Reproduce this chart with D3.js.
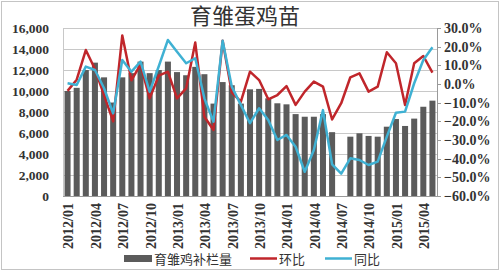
<!DOCTYPE html>
<html>
<head>
<meta charset="utf-8">
<script src="https://cdn.jsdelivr.net/npm/d3@7"></script>
<style>
  body { margin: 0; background: #fff; overflow: hidden; }
  svg { display: block; }
  svg text { fill: #333; }
  .num { font-family: "Liberation Serif", serif; font-weight: bold; }
  .cjk { font-family: "Noto Sans CJK SC", sans-serif; }
</style>
</head>
<body>
<svg id="chart"></svg>
<script>
const width = 500;
const height = 272;
const margin = {left: 63, right: 63, top: 28, bottom: 76};
const innerWidth = width - margin.left - margin.right;
const innerHeight = height - margin.top - margin.bottom;

// months on the category axis
const months = [
    "2012/01","2012/02","2012/03","2012/04","2012/05","2012/06","2012/07","2012/08","2012/09","2012/10","2012/11","2012/12",
    "2013/01","2013/02","2013/03","2013/04","2013/05","2013/06","2013/07","2013/08","2013/09","2013/10","2013/11","2013/12",
    "2014/01","2014/02","2014/03","2014/04","2014/05","2014/06","2014/07","2014/08","2014/09","2014/10","2014/11","2014/12",
    "2015/01","2015/02","2015/03","2015/04","2015/05"
];
const tick_months = ["2012/01","2012/04","2012/07","2012/10","2013/01","2013/04","2013/07","2013/10",
    "2014/01","2014/04","2014/07","2014/10","2015/01","2015/04"];

// 育雏鸡补栏量 (bars, left axis) - 2014/07 has no bar
const stock = [10000, 10300, 12000, 12700, 11300, 8900, 11300, 11700, 12800, 11700, 12000, 12800,
    11800, 11500, 12300, 11600, 8800, 10850, 10550, 8800, 10160, 10200, 9300, 8830,
    8730, 7800, 7550, 7550, 7800, 6080, null, 5650, 5970, 5720, 5650, 6600,
    7330, 6670, 7370, 8500, 9080];

// 环比 (%, right axis)
const mom = [-3.7, 2.3, 18.2, 8, -6, -20, 26, 2, 10.5, -7.7, 4.5, 6.6,
    -7.7, -2.3, 22.2, -17.5, -24.6, 23.2, -4.5, -9.5, 6.6, 2.1, -8.2, -5.9,
    -1.1, -11.2, -4.1, 1.3, -1.4, -19, -10.3, 3.6, 5.7, -4.1, -1.4, 17,
    11.1, -11.2, 11.1, 15, 6.1];

// 同比 (%, right axis)
const yoy = [0.4, -0.5, 9.3, 7.5, -2.3, -15.7, 12.9, 6.6, 12, -4.1, 9.5, 23.6,
    17.3, 11.1, 13.8, -7.7, -20.2, 23.2, -1.4, -11.2, -21, -13, -19.3, -30,
    -27.3, -33.6, -47, -35.4, -14, -43, -48, -39.8, -40.7, -43.4, -41.6, -28.2,
    -15.4, -14.8, 0.4, 12.9, 19.7];

const left_ticks = [0, 2000, 4000, 6000, 8000, 10000, 12000, 14000, 16000];
const right_ticks = [-60, -50, -40, -30, -20, -10, 0, 10, 20, 30];

const bar_color = "#5b5b5b";
const red_color = "#c0262b";
const cyan_color = "#3fb1d3";

var svg = d3.select("#chart")
    .attr("width", width)
    .attr("height", height);

// outer frame
svg.append("rect")
    .attr("x", 1.5).attr("y", 1.5)
    .attr("width", width - 3).attr("height", height - 4)
    .attr("fill", "none")
    .attr("stroke", "#c4c4c4");

var x = d3.scaleBand()
    .domain(months)
    .range([margin.left, margin.left + innerWidth])
    .paddingInner(0.34)
    .paddingOuter(0.17);

var yLeft = d3.scaleLinear()
    .domain([0, 16000])
    .range([margin.top + innerHeight, margin.top]);

var yRight = d3.scaleLinear()
    .domain([-60, 30])
    .range([margin.top + innerHeight, margin.top]);

const cx = d => x(d) + x.bandwidth() / 2;

// gridlines
svg.append("g")
    .selectAll("line")
    .data(left_ticks)
    .enter().append("line")
        .attr("x1", margin.left)
        .attr("x2", margin.left + innerWidth)
        .attr("y1", d => Math.round(yLeft(d)) + 0.5)
        .attr("y2", d => Math.round(yLeft(d)) + 0.5)
        .attr("stroke", "#c8c8c8")
        .attr("stroke-width", 1);

// plot border on the left
svg.append("line")
    .attr("x1", margin.left + 0.5).attr("x2", margin.left + 0.5)
    .attr("y1", margin.top).attr("y2", margin.top + innerHeight)
    .attr("stroke", "#c8c8c8");

// left axis labels
svg.append("g")
    .selectAll("text")
    .data(left_ticks)
    .enter().append("text")
        .attr("class", "num")
        .attr("x", 49)
        .attr("y", d => yLeft(d))
        .attr("dy", "0.35em")
        .attr("text-anchor", "end")
        .style("font-size", "13.5px")
        .text(d => d3.format(",")(d));

// right axis labels + ticks
svg.append("line")
    .attr("x1", margin.left + innerWidth + 0.5).attr("x2", margin.left + innerWidth + 0.5)
    .attr("y1", margin.top).attr("y2", margin.top + innerHeight)
    .attr("stroke", "#9a9a9a");

svg.append("g")
    .selectAll("line")
    .data(right_ticks)
    .enter().append("line")
        .attr("x1", margin.left + innerWidth)
        .attr("x2", margin.left + innerWidth + 4)
        .attr("y1", d => Math.round(yRight(d)) + 0.5)
        .attr("y2", d => Math.round(yRight(d)) + 0.5)
        .attr("stroke", "#9a9a9a");

svg.append("g")
    .selectAll("text")
    .data(right_ticks)
    .enter().append("text")
        .attr("class", "num")
        .attr("x", margin.left + innerWidth + 7)
        .attr("y", d => yRight(d))
        .attr("dy", "0.35em")
        .style("font-size", "14px")
        .text(d => d3.format(".1f")(d) + "%");

// bars
svg.append("g")
    .selectAll("rect")
    .data(months.map((m, i) => ({month: m, value: stock[i]})).filter(d => d.value !== null))
    .enter().append("rect")
        .attr("x", d => x(d.month))
        .attr("width", x.bandwidth())
        .attr("y", d => yLeft(d.value))
        .attr("height", d => yLeft(0) - yLeft(d.value))
        .attr("fill", bar_color);

// bottom axis line
svg.append("line")
    .attr("x1", margin.left).attr("x2", margin.left + innerWidth)
    .attr("y1", yLeft(0) + 0.5).attr("y2", yLeft(0) + 0.5)
    .attr("stroke", "#9a9a9a");

// lines
var pct_line = d3.line()
    .defined(d => d.value !== null)
    .x(d => cx(d.month))
    .y(d => yRight(d.value));

svg.append("path")
    .datum(months.map((m, i) => ({month: m, value: mom[i]})))
    .attr("d", pct_line)
    .attr("fill", "none")
    .attr("stroke", red_color)
    .attr("stroke-width", 2.5)
    .attr("stroke-linejoin", "round");

svg.append("path")
    .datum(months.map((m, i) => ({month: m, value: yoy[i]})))
    .attr("d", pct_line)
    .attr("fill", "none")
    .attr("stroke", cyan_color)
    .attr("stroke-width", 2.5)
    .attr("stroke-linejoin", "round");

// x labels, rotated
svg.append("g")
    .selectAll("text")
    .data(tick_months)
    .enter().append("text")
        .attr("class", "num")
        .attr("transform", d => `translate(${cx(d) + 1}, 203) rotate(-90)`)
        .attr("dy", "0.35em")
        .attr("text-anchor", "end")
        .style("font-size", "14px")
        .text(d => d);

// title
svg.append("text")
    .attr("class", "cjk")
    .attr("x", 245)
    .attr("y", 24)
    .attr("text-anchor", "middle")
    .style("font-size", "22px")
    .text("育雏蛋鸡苗");

// legend
var legend = svg.append("g");
legend.append("rect")
    .attr("x", 124).attr("y", 255)
    .attr("width", 28).attr("height", 7)
    .attr("fill", bar_color);
legend.append("text")
    .attr("class", "cjk")
    .attr("x", 154).attr("y", 263.5)
    .style("font-size", "13px")
    .text("育雏鸡补栏量");
legend.append("line")
    .attr("x1", 250).attr("x2", 277)
    .attr("y1", 258.5).attr("y2", 258.5)
    .attr("stroke", red_color).attr("stroke-width", 2.5);
legend.append("text")
    .attr("class", "cjk")
    .attr("x", 279).attr("y", 263.5)
    .style("font-size", "13px")
    .text("环比");
legend.append("line")
    .attr("x1", 325).attr("x2", 352)
    .attr("y1", 258.5).attr("y2", 258.5)
    .attr("stroke", cyan_color).attr("stroke-width", 2.5);
legend.append("text")
    .attr("class", "cjk")
    .attr("x", 354).attr("y", 263.5)
    .style("font-size", "13px")
    .text("同比");
</script>
</body>
</html>
